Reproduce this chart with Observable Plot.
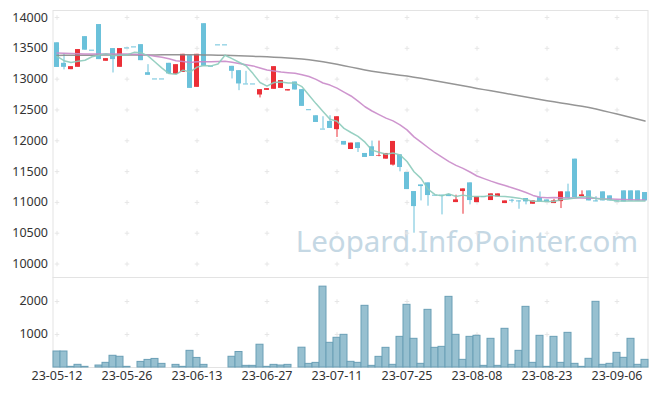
<!DOCTYPE html>
<html><head><meta charset="utf-8">
<script src="https://cdn.jsdelivr.net/npm/d3@7"></script>
<script src="https://cdn.jsdelivr.net/npm/@observablehq/plot@0.6"></script>
<style>
body{margin:0;background:#fff;}
#wrap{position:relative;width:657px;height:396px;overflow:hidden;}
#price{position:absolute;left:0;top:0;}
#vol{position:absolute;left:0;top:277px;}
</style></head><body><div id="wrap"><div id="price"></div><div id="vol"></div></div>
<script>
const dates = ["23-05-12","23-05-15","23-05-16","23-05-17","23-05-18","23-05-19","23-05-22","23-05-23","23-05-24","23-05-25",
"23-05-26","23-05-30","23-05-31","23-06-01","23-06-02","23-06-05","23-06-07","23-06-08","23-06-09","23-06-12",
"23-06-13","23-06-14","23-06-15","23-06-16","23-06-19","23-06-20","23-06-21","23-06-22","23-06-23","23-06-26",
"23-06-27","23-06-28","23-06-29","23-06-30","23-07-03","23-07-04","23-07-05","23-07-06","23-07-07","23-07-10",
"23-07-11","23-07-12","23-07-13","23-07-14","23-07-17","23-07-18","23-07-19","23-07-20","23-07-21","23-07-24",
"23-07-25","23-07-26","23-07-27","23-07-28","23-07-31","23-08-01","23-08-02","23-08-03","23-08-04","23-08-07",
"23-08-08","23-08-09","23-08-10","23-08-11","23-08-14","23-08-16","23-08-17","23-08-18","23-08-21","23-08-22",
"23-08-23","23-08-24","23-08-25","23-08-28","23-08-29","23-08-30","23-08-31","23-09-01","23-09-04","23-09-05",
"23-09-06","23-09-07","23-09-08","23-09-11","23-09-12"];
const open = [13590,13257,13154,13192,13690,13470,13886,13290,13496,13192,
13507,13523,13560,13105,13003,13003,13257,13078,13110,13382,
12867,13900,13210,13556,13556,13208,13138,12922,12922,12743,
12818,12835,12850,12808,12954,12830,12504,12406,12190,12314,
12180,11989,11858,11967,11794,11902,11750,11702,11605,11772,
11485,11176,11284,11317,11117,11117,11127,10997,11176,11317,
10997,11094,11030,11089,10981,11035,11024,11063,10970,11078,
11040,10981,11013,11171,11702,11094,11187,11024,11171,11106,
11024,11187,11187,11187,11160];
const high = [13590,13410,13203,13480,13690,13470,13886,13333,13496,13496,
13507,13523,13560,13235,13003,13003,13257,13235,13403,13382,
13403,13900,13210,13556,13556,13208,13138,13127,12922,12830,
12846,13203,12976,12830,12954,12830,12504,12406,12390,12406,
12390,11989,11962,11967,11794,11995,11995,11794,11989,11772,
11485,11176,11284,11317,11117,11117,11127,11117,11219,11317,
11089,11094,11138,11138,11024,11050,11024,11063,11024,11170,
11040,11050,11171,11296,11702,11187,11187,11094,11171,11106,
11024,11187,11187,11187,11160];
const low = [13190,13150,13154,13192,13470,13470,13317,13290,13100,13192,
13507,13523,13300,13062,13003,13003,13085,13078,13110,12850,
12867,13210,13210,13556,13556,13003,12813,12922,12922,12695,
12818,12835,12850,12808,12824,12558,12504,12297,12190,12200,
12054,11930,11858,11810,11729,11745,11740,11702,11590,11496,
11208,10500,11024,10938,11117,10797,11094,10997,10808,10960,
10997,11094,11030,11089,10981,10990,10889,10960,10970,11008,
11008,10981,10900,11068,11078,11094,11024,11010,11024,11024,
11024,11008,11024,11024,11024];
const close = [13190,13192,13203,13480,13470,13470,13317,13333,13317,13496,
13507,13523,13300,13062,13003,13003,13085,13235,13403,12850,
13403,13210,13210,13556,13556,13127,12922,12922,12922,12830,
12846,13203,12976,12830,12824,12558,12504,12297,12190,12200,
12390,11930,11962,11875,11729,11745,11760,11794,11989,11566,
11208,10932,11257,11111,11117,11117,11094,11041,11219,11030,
11089,11094,11138,11138,11024,11020,11024,11008,11024,11008,
11008,11024,11171,11068,11078,11122,11024,11024,11024,11024,
11024,11008,11024,11024,11024];
const volume = [485,485,20,81,20,0,60,141,355,325,
20,0,170,230,260,110,0,80,20,505,
290,80,0,0,0,325,470,50,50,690,
20,80,60,80,0,600,110,140,2450,748,
900,990,172,141,1869,50,323,596,81,929,
1899,869,111,1747,596,626,2141,990,232,929,
960,50,869,50,1172,81,505,1838,141,960,
20,929,141,1050,111,20,263,1990,81,111,
444,293,869,81,232];
const ma5 = [13370,13300,13270,13290,13307,13363,13388,13414,13381,13387,
13394,13435,13429,13378,13279,13178,13091,13078,13146,13115,
13195,13220,13215,13246,13387,13332,13274,13217,13090,12945,
12888,12945,12955,12937,12936,12878,12738,12603,12475,12350,
12316,12201,12134,12071,11977,11848,11814,11781,11803,11771,
11663,11498,11390,11215,11125,11107,11139,11096,11118,11100,
11095,11095,11114,11098,11097,11083,11069,11043,11020,11017,
11014,11014,11047,11056,11070,11093,11093,11063,11054,11044,
11024,11021,11021,11021,11021];
const ma20 = [13426,13422,13418,13414,13410,13410,13410,13410,13410,13410,
13408,13405,13400,13390,13370,13355,13330,13300,13288,13272,
13283,13284,13284,13288,13292,13275,13255,13235,13215,13181,
13148,13132,13116,13105,13096,13073,13044,12997,12937,12904,
12854,12790,12727,12643,12552,12483,12425,12368,12322,12258,
12177,12063,11977,11891,11806,11734,11663,11600,11552,11493,
11428,11386,11345,11308,11273,11237,11200,11161,11113,11085,
11075,11079,11075,11073,11071,11071,11068,11067,11057,11057,
11053,11049,11043,11038,11038];
const ma120 = [13385,13386,13387,13388,13388,13389,13390,13390,13391,13391,
13392,13392,13393,13393,13393,13394,13394,13394,13394,13394,
13394,13393,13391,13389,13386,13382,13378,13374,13370,13366,
13362,13356,13350,13343,13336,13328,13315,13300,13283,13262,
13240,13218,13195,13172,13150,13130,13112,13095,13080,13065,
13050,13032,13013,12993,12973,12953,12933,12913,12893,12872,
12850,12830,12810,12790,12770,12750,12730,12710,12690,12670,
12650,12632,12614,12596,12578,12560,12540,12514,12488,12461,
12434,12406,12378,12349,12320];
const priceTicks = [10000,10500,11000,11500,12000,12500,13000,13500,14000];
const volTicks = [1000,2000];
const dateTicks = ["23-05-12","23-05-26","23-06-13","23-06-27","23-07-11","23-07-25","23-08-08","23-08-23","23-09-06"];
const watermark = "Leopard.InfoPointer.com";

const RED = "#eb2f37", BLUE = "#6bc1da";
const rows = dates.map((d,i)=>({d, o:open[i], h:high[i], l:low[i], c:close[i], v:volume[i], m5:ma5[i], m20:ma20[i], m120:ma120[i]}));
const col = r => r.c > r.o ? RED : BLUE;
const priceGrid = dateTicks.flatMap(d => priceTicks.map(p => ({d, p})));
const volGrid = dateTicks.flatMap(d => volTicks.map(p => ({d, p})));
const FONT = "'Noto Sans', sans-serif";
const common = {
  width: 657, marginLeft: 52.5, marginRight: 9.5,
  color: {type: "identity"},
  style: {fontFamily: FONT, fontSize: "12px", color: "#333", background: "transparent"}
};

const price = Plot.plot({
  ...common,
  height: 278, marginTop: 10, marginBottom: 0,
  x: {type: "band", domain: dates, padding: 0, axis: null},
  y: {domain: [9765, 14114], axis: null},
  marks: [
    Plot.frame({stroke: "#e3e3e3"}),
    Plot.text([watermark], {frameAnchor: "bottom-right", dx: -10, dy: -27, fontSize: 29.5, fill: "#c5d8e4", fontFamily: FONT}),
    Plot.dot(priceGrid, {x: "d", y: "p", symbol: "plus", r: 1.6, stroke: "#e6e6e6", strokeWidth: 1}),
    Plot.axisY(priceTicks, {label: null, tickSize: 0, tickPadding: 5, tickFormat: d => String(d), fill: "#333", fontSize: 12.5}),
    Plot.ruleX(rows, {x: "d", y1: "l", y2: "h", stroke: col, strokeWidth: 1}),
    Plot.barY(rows.filter(r => r.o !== r.c), {x: "d", y1: "o", y2: "c", fill: col, insetLeft: 1, insetRight: 1}),
    Plot.tickY(rows.filter(r => r.o === r.c), {x: "d", y: "c", stroke: col, insetLeft: 1, insetRight: 1}),
    Plot.lineY(rows, {x: "d", y: "m120", stroke: "#8a8a8a", strokeWidth: 1.5, strokeOpacity: 0.9}),
    Plot.lineY(rows, {x: "d", y: "m20", stroke: "#c98ac9", strokeWidth: 1.5, strokeOpacity: 0.9}),
    Plot.lineY(rows, {x: "d", y: "m5", stroke: "#8ccbbb", strokeWidth: 1.5, strokeOpacity: 0.9})
  ]
});
document.getElementById("price").appendChild(price);

const vol = Plot.plot({
  ...common,
  height: 119, marginTop: 0, marginBottom: 29,
  x: {type: "band", domain: dates, padding: 0, axis: null},
  y: {domain: [0, 2727], axis: null},
  marks: [
    Plot.frame({stroke: "#e3e3e3"}),
    Plot.dot(volGrid, {x: "d", y: "p", symbol: "plus", r: 1.6, stroke: "#e6e6e6", strokeWidth: 1}),
    Plot.barY(rows, {x: "d", y: "v", fill: "#97c0d0", stroke: "#6a9fb6", strokeWidth: 1}),
    Plot.axisY(volTicks, {label: null, tickSize: 0, tickPadding: 5, tickFormat: d => String(d), fill: "#333", fontSize: 12.5}),
    Plot.axisX(dateTicks, {label: null, tickSize: 0, tickPadding: 4, fill: "#333", fontSize: 12.5})
  ]
});
document.getElementById("vol").appendChild(vol);
</script></body></html>
